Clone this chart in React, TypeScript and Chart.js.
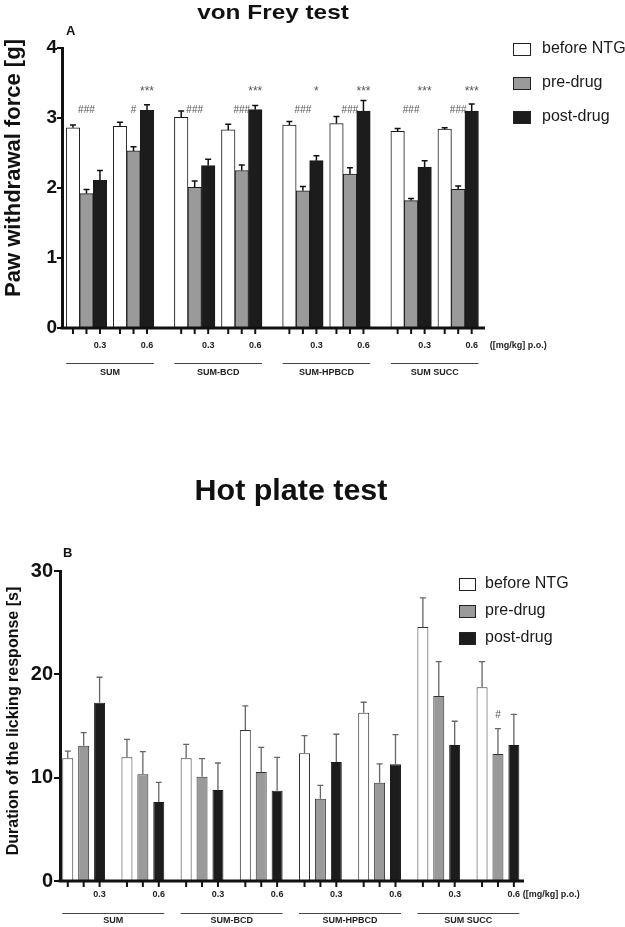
import React, { useEffect, useRef } from 'react';
import { Chart, registerables } from 'chart.js';

Chart.register(...registerables);

// ---------- data ----------
const DRUGS = ['SUM', 'SUM-BCD', 'SUM-HPBCD', 'SUM SUCC'];
const DOSES = ['0.3', '0.6'];
const SERIES = ['before NTG', 'pre-drug', 'post-drug'];
const UNITS = '([mg/kg] p.o.)';

// von Frey test [g]; order: SUM 0.3, SUM 0.6, SUM-BCD 0.3, SUM-BCD 0.6, SUM-HPBCD 0.3, SUM-HPBCD 0.6, SUM SUCC 0.3, SUM SUCC 0.6
const VF_BEFORE = [2.86, 2.88, 3.01, 2.83, 2.9, 2.92, 2.81, 2.84];
const VF_BEFORE_ERR = [0.04, 0.06, 0.09, 0.08, 0.05, 0.1, 0.04, 0.02];
const VF_PRE = [1.92, 2.53, 2.01, 2.25, 1.96, 2.2, 1.82, 1.98];
const VF_PRE_ERR = [0.06, 0.06, 0.09, 0.08, 0.06, 0.09, 0.03, 0.05];
const VF_POST = [2.11, 3.11, 2.32, 3.12, 2.39, 3.1, 2.3, 3.1];
const VF_POST_ERR = [0.14, 0.08, 0.09, 0.06, 0.07, 0.15, 0.09, 0.1];
const VF_HASH = ['###', '#', '###', '###', '###', '###', '###', '###'];
const VF_STAR = ['', '***', '', '***', '*', '***', '***', '***'];
const VF_HASH_LEVEL = 3.11;
const VF_STAR_LEVEL = 3.38;
const VF_Y_MAX = 4;
const VF_Y_STEP = 1;

// Hot plate test [s]
const HP_BEFORE = [11.87, 11.97, 11.87, 14.62, 12.36, 16.29, 24.59, 18.75];
const HP_BEFORE_ERR = [0.7, 1.74, 1.36, 2.32, 1.71, 1.01, 2.8, 2.48];
const HP_PRE = [13.1, 10.33, 10.1, 10.55, 7.97, 9.52, 17.9, 12.29];
const HP_PRE_ERR = [1.26, 2.19, 1.74, 2.39, 1.29, 1.81, 3.33, 2.45];
const HP_POST = [17.26, 7.65, 8.81, 8.74, 11.52, 11.29, 13.17, 13.17];
const HP_POST_ERR = [2.46, 1.9, 2.61, 3.23, 2.68, 2.87, 2.29, 2.96];
const HP_HASH = ['', '', '', '', '', '', '', '#'];
const HP_Y_MAX = 30;
const HP_Y_STEP = 10;

// ---------- styling ----------
const FONT = "'Liberation Sans', Arial, Helvetica, sans-serif";
const f = (size: number, bold = true) => `${bold ? 'bold ' : ''}${size}px ${FONT}`;
const FILLS = ['#ffffff', '#9a9a9a', '#1c1c1c'];

type Panel = {
  height: number;
  title: string; titleSize: number; titleScaleX: number; titleX: number; titleBaseline: number;
  letter: string; letterSize: number; letterX: number; letterY: number;
  yLabel: string; yLabelSize: number; yLabelX: number; yLabelY: number;
  legendBoxX: number; legendTextX: number; legendY0: number; legendStep: number;
  legendBoxW: number; legendBoxH: number; legendSize: number;
  values: number[][]; errors: number[][]; borders: string[];
  errColor: string; errWidth: number; errCap: number;
  gap: number; xMin: number; xMax: number;
  yMax: number; yStep: number; yTickSize: number; yWidth: number; yTickLen: number; yTickPad: number;
  pad: { top: number; right: number; bottom: number };
  barThickness?: number; catPct?: number; barPct?: number;
  axisTickLen: number; doseY: number; unitsDx: number; groupLineY: number; groupLabelY: number; smallSize: number;
  annotate: (chart: any) => void;
};

function buildPanel(canvas: HTMLCanvasElement, p: Panel) {
  const pos = DRUGS.flatMap((_, d) => DOSES.map((__, k) => d * (DOSES.length + p.gap) + k));
  const groupTicks = pos.slice();
  const datasets = SERIES.map((name, s) => ({
    label: name,
    data: pos.map((x, i) => ({ x, y: p.values[s][i] })),
    backgroundColor: FILLS[s],
    borderColor: p.borders[s],
    borderWidth: 1,
    ...(p.barThickness
      ? { barThickness: p.barThickness }
      : { categoryPercentage: p.catPct, barPercentage: p.barPct }),
  }));

  const plugin = {
    id: 'panelDecor',
    afterDatasetsDraw(chart: any) {
      const ctx = chart.ctx;
      const ys = chart.scales.y;
      ctx.save();
      ctx.strokeStyle = p.errColor;
      ctx.lineWidth = p.errWidth;
      SERIES.forEach((_, s) => {
        chart.getDatasetMeta(s).data.forEach((bar: any, i: number) => {
          const top = ys.getPixelForValue(p.values[s][i] + p.errors[s][i]);
          ctx.beginPath();
          ctx.moveTo(bar.x, bar.y);
          ctx.lineTo(bar.x, top);
          ctx.moveTo(bar.x - p.errCap, top);
          ctx.lineTo(bar.x + p.errCap, top);
          ctx.stroke();
        });
      });
      ctx.restore();
    },
    afterDraw(chart: any) {
      const ctx = chart.ctx;
      const ca = chart.chartArea;
      ctx.save();
      ctx.fillStyle = '#111';
      // title (slightly widened, as in the original figure)
      ctx.save();
      ctx.translate(p.titleX, p.titleBaseline);
      ctx.scale(p.titleScaleX, 1);
      ctx.textAlign = 'center';
      ctx.textBaseline = 'alphabetic';
      ctx.font = f(p.titleSize);
      ctx.fillText(p.title, 0, 0);
      ctx.restore();
      ctx.textBaseline = 'middle';
      // panel letter
      ctx.textAlign = 'left';
      ctx.font = f(p.letterSize);
      ctx.fillText(p.letter, p.letterX, p.letterY);
      // y label
      ctx.save();
      ctx.translate(p.yLabelX, p.yLabelY);
      ctx.rotate(-Math.PI / 2);
      ctx.textAlign = 'center';
      ctx.font = f(p.yLabelSize);
      ctx.fillText(p.yLabel, 0, 0);
      ctx.restore();
      // legend
      SERIES.forEach((name, s) => {
        const cy = p.legendY0 + s * p.legendStep;
        const y0 = Math.round(cy - p.legendBoxH / 2);
        ctx.fillStyle = FILLS[s];
        ctx.fillRect(p.legendBoxX, y0, p.legendBoxW, p.legendBoxH);
        ctx.strokeStyle = '#222';
        ctx.lineWidth = 1;
        ctx.strokeRect(p.legendBoxX + 0.5, y0 + 0.5, p.legendBoxW - 1, p.legendBoxH - 1);
        ctx.fillStyle = '#1a1a1a';
        ctx.font = f(p.legendSize, false);
        ctx.textAlign = 'left';
        ctx.fillText(name, p.legendTextX, cy);
      });
      // x axis line
      ctx.strokeStyle = '#111';
      ctx.lineWidth = 3;
      ctx.beginPath();
      ctx.moveTo(ca.left - 1.5, ca.bottom);
      ctx.lineTo(ca.right, ca.bottom);
      ctx.stroke();
      // tick marks under each bar
      ctx.lineWidth = 2;
      SERIES.forEach((_, s) => {
        chart.getDatasetMeta(s).data.forEach((bar: any) => {
          ctx.beginPath();
          ctx.moveTo(bar.x, ca.bottom);
          ctx.lineTo(bar.x, ca.bottom + p.axisTickLen);
          ctx.stroke();
        });
      });
      // dose labels
      const first = chart.getDatasetMeta(0).data;
      const last = chart.getDatasetMeta(SERIES.length - 1).data;
      ctx.font = f(p.smallSize);
      ctx.fillStyle = '#222';
      ctx.textAlign = 'center';
      last.forEach((bar: any, i: number) => ctx.fillText(DOSES[i % DOSES.length], bar.x, p.doseY));
      ctx.textAlign = 'left';
      ctx.fillText(UNITS, last[last.length - 1].x + p.unitsDx, p.doseY);
      // group lines + labels
      ctx.strokeStyle = '#444';
      ctx.lineWidth = 1;
      DRUGS.forEach((name, d) => {
        const a = first[d * DOSES.length];
        const b = last[d * DOSES.length + DOSES.length - 1];
        const x0 = a.x - a.width / 2;
        const x1 = b.x + b.width / 2;
        ctx.beginPath();
        ctx.moveTo(x0, p.groupLineY + 0.5);
        ctx.lineTo(x1, p.groupLineY + 0.5);
        ctx.stroke();
        ctx.textAlign = 'center';
        ctx.fillText(name, (x0 + x1) / 2, p.groupLabelY);
      });
      p.annotate(chart);
      ctx.restore();
    },
  };

  return new Chart(canvas, {
    type: 'bar',
    data: { datasets: datasets as any },
    options: {
      responsive: false,
      animation: false,
      events: [],
      layout: { padding: { left: 0, right: p.pad.right, top: p.pad.top, bottom: p.pad.bottom } },
      plugins: { legend: { display: false }, title: { display: false }, tooltip: { enabled: false } },
      scales: {
        x: {
          type: 'linear',
          display: false,
          offset: false,
          min: p.xMin,
          max: p.xMax,
          afterBuildTicks: (s: any) => {
            s.ticks = groupTicks.map((v) => ({ value: v }));
          },
        },
        y: {
          min: 0,
          max: p.yMax,
          afterFit: (s: any) => {
            s.width = p.yWidth;
          },
          ticks: {
            stepSize: p.yStep,
            font: { family: FONT, size: p.yTickSize, weight: 'bold' },
            color: '#111',
            padding: p.yTickPad,
          },
          grid: {
            display: true,
            drawOnChartArea: false,
            drawTicks: true,
            tickLength: p.yTickLen,
            color: '#111',
            lineWidth: 2,
          },
          border: { display: true, width: 3, color: '#111' },
        },
      },
    } as any,
    plugins: [plugin],
  });
}

const TOP: Panel = {
  height: 420,
  title: 'von Frey test', titleSize: 21, titleScaleX: 1.16, titleX: 273, titleBaseline: 19,
  letter: 'A', letterSize: 13, letterX: 66, letterY: 31,
  yLabel: 'Paw withdrawal force [g]', yLabelSize: 22, yLabelX: 14, yLabelY: 168,
  legendBoxX: 513, legendTextX: 542, legendY0: 49, legendStep: 34, legendBoxW: 18, legendBoxH: 13, legendSize: 16,
  values: [VF_BEFORE, VF_PRE, VF_POST], errors: [VF_BEFORE_ERR, VF_PRE_ERR, VF_POST_ERR],
  borders: ['#1a1a1a', '#1a1a1a', '#1a1a1a'],
  errColor: '#111', errWidth: 1.5, errCap: 3,
  gap: 0.3, xMin: -0.52, xMax: 8.47,
  yMax: VF_Y_MAX, yStep: VF_Y_STEP, yTickSize: 19, yWidth: 62, yTickLen: 5, yTickPad: 0,
  pad: { top: 48, right: 140, bottom: 92 },
  barThickness: 13.5,
  axisTickLen: 6, doseY: 346, unitsDx: 18, groupLineY: 363, groupLabelY: 373, smallSize: 9,
  annotate: (chart: any) => {
    const ctx = chart.ctx;
    const ys = chart.scales.y;
    ctx.fillStyle = '#555';
    ctx.textAlign = 'center';
    ctx.textBaseline = 'middle';
    ctx.font = f(10, false);
    chart.getDatasetMeta(1).data.forEach((bar: any, i: number) =>
      ctx.fillText(VF_HASH[i], bar.x, ys.getPixelForValue(VF_HASH_LEVEL)));
    ctx.font = f(12, false);
    chart.getDatasetMeta(2).data.forEach((bar: any, i: number) =>
      ctx.fillText(VF_STAR[i], bar.x, ys.getPixelForValue(VF_STAR_LEVEL)));
  },
};

const BOTTOM: Panel = {
  height: 507,
  title: 'Hot plate test', titleSize: 29, titleScaleX: 1.05, titleX: 291, titleBaseline: 80,
  letter: 'B', letterSize: 13, letterX: 63, letterY: 133,
  yLabel: 'Duration of the licking response [s]', yLabelSize: 16, yLabelX: 14, yLabelY: 301,
  legendBoxX: 459, legendTextX: 485, legendY0: 164, legendStep: 27, legendBoxW: 17, legendBoxH: 13, legendSize: 16,
  values: [HP_BEFORE, HP_PRE, HP_POST], errors: [HP_BEFORE_ERR, HP_PRE_ERR, HP_POST_ERR],
  borders: ['#333', '#333', '#1a1a1a'],
  errColor: '#666', errWidth: 1.3, errCap: 3,
  gap: 0, xMin: -0.4, xMax: 7.44,
  yMax: HP_Y_MAX, yStep: HP_Y_STEP, yTickSize: 20, yWidth: 60, yTickLen: 6, yTickPad: 1,
  pad: { top: 151, right: 101, bottom: 46 },
  catPct: 0.806, barPct: 0.69,
  axisTickLen: 6, doseY: 475, unitsDx: 9, groupLineY: 493, groupLabelY: 501, smallSize: 9,
  annotate: (chart: any) => {
    const ctx = chart.ctx;
    const ys = chart.scales.y;
    ctx.fillStyle = '#555';
    ctx.textAlign = 'center';
    ctx.textBaseline = 'middle';
    ctx.font = f(10, false);
    chart.getDatasetMeta(1).data.forEach((bar: any, i: number) => {
      const top = ys.getPixelForValue(HP_PRE[i] + HP_PRE_ERR[i]);
      ctx.fillText(HP_HASH[i], bar.x, top - 13);
    });
  },
};

function PanelCanvas({ panel, top }: { panel: Panel; top: number }) {
  const ref = useRef<HTMLCanvasElement>(null);
  useEffect(() => {
    const chart = buildPanel(ref.current as HTMLCanvasElement, panel);
    return () => chart.destroy();
  }, [panel]);
  return (
    <canvas
      ref={ref}
      width={625}
      height={panel.height}
      style={{ position: 'absolute', left: 0, top, width: 625, height: panel.height }}
    />
  );
}

export default function App() {
  return (
    <div style={{ position: 'absolute', left: 0, top: 0, width: 625, height: 927, background: '#fff', overflow: 'hidden' }}>
      <PanelCanvas panel={TOP} top={0} />
      <PanelCanvas panel={BOTTOM} top={420} />
    </div>
  );
}
